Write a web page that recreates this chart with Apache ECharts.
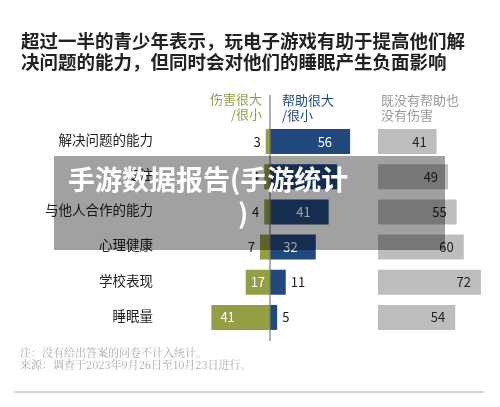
<!DOCTYPE html>
<html>
<head>
<meta charset="utf-8">
<script src="https://cdn.jsdelivr.net/npm/echarts@6/dist/echarts.min.js"></script>
<style>html,body{margin:0;padding:0;background:#fff}#c{width:500px;height:407px}</style>
</head>
<body>
<div id="c"></div>
<script>
const categories = ['解决问题的能力', '专注', '与他人合作的能力', '心理健康', '学校表现', '睡眠量']
const harm = [3, 4, 4, 7, 17, 41]
const help = [56, 47, 41, 32, 11, 5]
const neither = [41, 49, 55, 60, 72, 54]

const OLIVE = '#949e45', BLUE = '#22497e', GRAY = '#bdbdbd'
const font = '"Noto Sans CJK SC", sans-serif'

var chart = echarts.init(document.getElementById('c'))

const harmData = harm.map(v => ({
  value: -v,
  label: v >= 30
    ? { position: 'insideLeft', color: '#fff', distance: 9 }
    : v >= 15
      ? { position: 'inside', color: '#fff' }
      : { position: 'left', color: '#222' }
}))
const helpData = help.map(v => ({
  value: v,
  label: v >= 20
    ? { position: 'insideRight', color: '#fff', distance: 18 }
    : { position: 'right', color: '#222' }
}))

var option = {
  animation: false,
  textStyle: { fontFamily: font },
  grid: [
    { left: 201.4, width: 168.7, top: 124, height: 211 },
    { left: 378, width: 114.4, top: 124, height: 211 }
  ],
  xAxis: [
    { gridIndex: 0, type: 'value', min: -48, max: 70, show: false },
    { gridIndex: 1, type: 'value', min: 0, max: 80, show: false }
  ],
  yAxis: [
    { gridIndex: 0, type: 'category', data: categories, inverse: true,
      axisLine: { show: false }, axisTick: { show: false },
      axisLabel: { show: false } },
    { gridIndex: 1, type: 'category', data: categories, inverse: true, show: false }
  ],
  series: [
    { type: 'bar', xAxisIndex: 0, yAxisIndex: 0, stack: 'a', data: harmData,
      barWidth: 25, itemStyle: { color: OLIVE },
      label: { show: true, fontSize: 13, fontFamily: font, formatter: p => -p.value } },
    { type: 'bar', xAxisIndex: 0, yAxisIndex: 0, stack: 'a', data: helpData,
      barWidth: 25, itemStyle: { color: BLUE },
      label: { show: true, fontSize: 13, fontFamily: font } },
    { type: 'bar', xAxisIndex: 1, yAxisIndex: 1, data: neither,
      barWidth: 25, itemStyle: { color: GRAY },
      label: { show: true, position: 'insideRight', distance: 10, color: '#222', fontSize: 13, fontFamily: font } }
  ],
  graphic: [
    { type: 'text', left: 21, top: 32, style: { text: '超过一半的青少年表示，玩电子游戏有助于提高他们解', font: 'bold 18.5px ' + font, fill: '#222' } },
    { type: 'text', left: 21, top: 53, style: { text: '决问题的能力，但同时会对他们的睡眠产生负面影响', font: 'bold 18.5px ' + font, fill: '#222' } },
    { type: 'text', right: 238, top: 93, style: { text: '伤害很大', font: '13px ' + font, fill: OLIVE } },
    { type: 'text', right: 238, top: 108, style: { text: '/很小', font: '13px ' + font, fill: OLIVE } },
    { type: 'text', left: 282, top: 93, style: { text: '帮助很大\n/很小', font: '13px ' + font, fill: BLUE, lineHeight: 15 } },
    { type: 'text', left: 381, top: 93, style: { text: '既没有帮助也\n没有伤害', font: '13px ' + font, fill: '#999', lineHeight: 15 } },
    { type: 'line', shape: { x1: 270, y1: 95, x2: 270, y2: 341 }, style: { stroke: '#777', lineWidth: 1.2 }, z: 10 },
    ...categories.map((c, i) => ({
      type: 'text', right: 347, top: 133 + i * 35.2,
      style: { text: c, font: '13.5px ' + font, fill: '#222' }
    })),
    { type: 'text', left: 20, top: 347, style: { text: '注：没有给出答案的问卷不计入统计。\n来源：调查于2023年9月26日至10月23日进行。', font: '11px "Noto Serif CJK SC", serif', fill: '#aaa', lineHeight: 12 } },
    { type: 'line', shape: { x1: 14, y1: 392, x2: 484, y2: 392 }, style: { stroke: '#aaa', lineWidth: 1 } },
    { type: 'rect', shape: { x: 54, y: 156, width: 391, height: 94 }, style: { fill: 'rgba(0,0,0,0.37)' }, z: 20 },
    { type: 'text', left: 68, top: 166, style: { text: '手游数据报告(手游统计', font: 'bold 27px ' + font, fill: '#fff' }, z: 21 },
    { type: 'text', left: 238, top: 200, style: { text: ')', font: 'bold 27px ' + font, fill: '#fff' }, z: 21 }
  ]
}
chart.setOption(option)
</script>
</body>
</html>
